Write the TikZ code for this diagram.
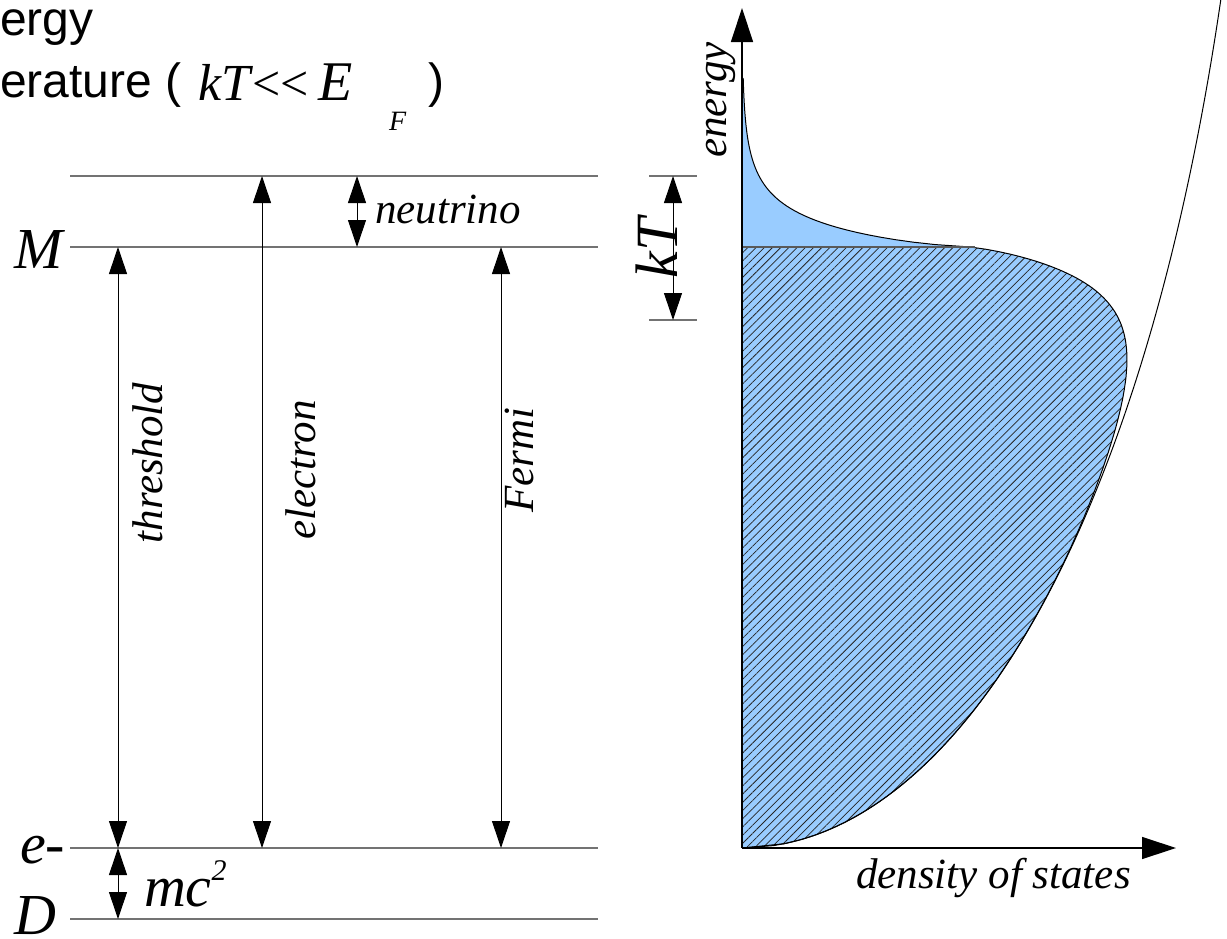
\documentclass[tikz,border=0pt]{standalone}
\usepackage{fontspec}
\setmainfont{Liberation Serif}
\newfontfamily\sansA{Liberation Sans}
\usetikzlibrary{arrows.meta,patterns.meta}
\definecolor{dosblue}{RGB}{153,204,255}
\definecolor{levelgray}{RGB}{115,115,115}
\newcommand\FS[1]{\fontsize{#1}{#1}\selectfont}
\begin{document}
\begin{tikzpicture}[x=1pt,y=-1pt,
  declare function={
    gdos(\e)=20.4*sqrt(\e)*(1-0.00023*\e);
    sfd(\e)=(\e>602) ? 0.165*pow(abs(\e-602)+0.001,0.7) : -0.117*pow(abs(602-\e)+0.001,0.7);
    fd(\e)=1/(1+exp(sfd(\e)));
  },
  lbl/.style={inner sep=0pt,outer sep=0pt,font=\itshape\FS{43}},
  big/.style={inner sep=0pt,outer sep=0pt,font=\itshape\FS{58},anchor=base west},
  level/.style={draw=levelgray,line width=1.2pt},
  dimarrow/.style={line width=1pt,{Triangle[length=27pt,width=18pt]}-{Triangle[length=27pt,width=18pt]}},
  axisarrow/.style={line width=1.3pt,-{Triangle[length=34pt,width=22pt]}},
  curveline/.style={line width=1pt,draw=black},
]
\useasboundingbox (0,0) rectangle (1227,938);
\fill[white] (0,0) rectangle (1227,938);

% ---------- left: levels ----------
\coordinate (LTl) at (70,176);  \coordinate (LTr) at (598,176);
\coordinate (LMl) at (70,247);  \coordinate (LMr) at (598,247);
\coordinate (LEl) at (70,848);  \coordinate (LEr) at (598,848);
\coordinate (LDl) at (70,919);  \coordinate (LDr) at (598,919);
\draw[level] (LTl) -- (LTr);
\draw[level] (LMl) -- (LMr);
\draw[level] (LEl) -- (LEr);
\draw[level] (LDl) -- (LDr);

\coordinate (thrT) at (118,247); \coordinate (thrB) at (118,848);
\coordinate (elT) at (262,176);  \coordinate (elB) at (262,848);
\coordinate (feT) at (501,247);  \coordinate (feB) at (501,848);
\coordinate (nuT) at (357,176);  \coordinate (nuB) at (357,247);
\coordinate (mcT) at (118,848);  \coordinate (mcB) at (118,919);
\draw[dimarrow] (thrT) -- (thrB);
\draw[dimarrow] (elT) -- (elB);
\draw[dimarrow] (feT) -- (feB);
\draw[dimarrow] (nuT) -- (nuB);
\draw[dimarrow] (mcT) -- (mcB);

\node[lbl,rotate=90,anchor=base] (thr) at (162,463) {threshold};
\node[lbl,rotate=90,anchor=base] (ele) at (315,470) {electron};
\node[lbl,rotate=90,anchor=base] (fer) at (533,460) {Fermi};
\node[lbl,anchor=base west] (neu) at (375,223) {neutrino};
\node[big] (M) at (14,268) {M};
\node[big] (em) at (20,863) {e-};
\node[big] (D) at (14,934) {D};
\node[big] (mc) at (144,906) {mc\raisebox{26pt}{\FS{30}2}};

% ---------- top-left title (cropped) ----------
\node[anchor=base west,inner sep=0pt,font=\sansA\FS{48}] (t1) at (0,35) {ergy};
\node[anchor=base west,inner sep=0pt,font=\sansA\FS{48}] (t2) at (0,97) {erature (};
\node[anchor=base west,inner sep=0pt,font=\itshape\FS{52}] (t3) at (198,100) {kT};
\node[anchor=base west,inner sep=0pt,font=\FS{50}] (t4) at (252,100) {<\kern0pt<};
\node[anchor=base west,inner sep=0pt,font=\itshape\FS{56}] (t5) at (318,100) {E};
\node[anchor=base west,inner sep=0pt,font=\itshape\FS{28}] (t6) at (389,130) {F};
\node[anchor=base west,inner sep=0pt,font=\sansA\FS{48}] (t7) at (428,97) {)};

% ---------- right: distribution ----------
\fill[dosblue] plot[domain=0:770,samples=320,variable=\e] ({742+gdos(\e)*fd(\e)},{848-\e}) -- cycle;
\begin{scope}
  \clip (742,247) rectangle (1200,848);
  \path[pattern={Lines[angle=45,distance=5.8pt,line width=0.75pt]},pattern color=black!85]
    plot[domain=0:770,samples=320,variable=\e] ({742+gdos(\e)*fd(\e)},{848-\e}) -- cycle;
\end{scope}
\draw[curveline] plot[domain=0:770,samples=320,variable=\e] ({742+gdos(\e)*fd(\e)},{848-\e});
\draw[curveline] plot[domain=0:852,samples=200,variable=\e] ({742+gdos(\e)},{848-\e});

\coordinate (EFa) at (742,247); \coordinate (EFb) at (975,247);
\draw[draw=black!65,line width=1.3pt] (EFa) -- (EFb);

\coordinate (O) at (742,848);
\coordinate (Ytip) at (742,8);
\coordinate (Xtip) at (1176,848);
\draw[axisarrow] (O) -- (Ytip);
\draw[axisarrow] (O) -- (Xtip);

% kT dimension
\coordinate (kA1) at (649,176); \coordinate (kA2) at (697,176);
\coordinate (kB1) at (649,320); \coordinate (kB2) at (697,320);
\draw[level] (kA1) -- (kA2);
\draw[level] (kB1) -- (kB2);
\coordinate (kT1) at (673,176); \coordinate (kT2) at (673,320);
\draw[dimarrow] (kT1) -- (kT2);
\node[inner sep=0pt,rotate=90,anchor=base,font=\itshape\FS{60}] (kT) at (677,248) {kT};

\node[lbl,rotate=90,anchor=base] (en) at (726,100) {energy};
\node[lbl,anchor=base west] (dos) at (856,888) {density of states};
\end{tikzpicture}
\end{document}
